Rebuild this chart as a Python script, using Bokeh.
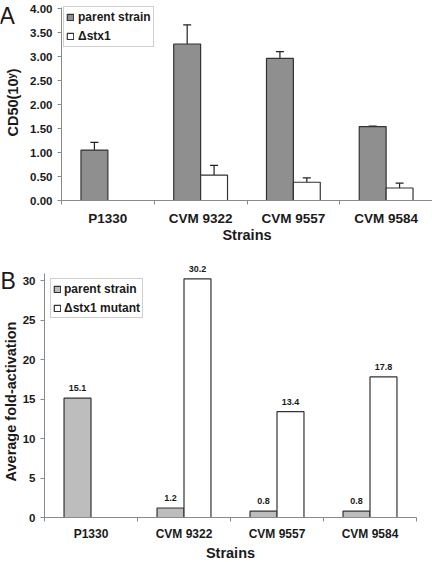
import math
from bokeh.plotting import figure
from bokeh.layouts import column, row
from bokeh.models import (ColumnDataSource, FixedTicker, Range1d, Whisker, TeeHead,
                          LabelSet, Legend, LegendItem, NumeralTickFormatter)
from bokeh.core.properties import value
from bokeh.embed import file_html
from bokeh.resources import INLINE

strains = ["P1330", "CVM 9322", "CVM 9557", "CVM 9584"]

# Panel A: CD50 (10^y)
cd50_parent = [1.05, 3.26, 2.96, 1.54]
cd50_parent_err = [0.16, 0.40, 0.14, 0.01]
cd50_mutant = [None, 0.53, 0.38, 0.26]
cd50_mutant_err = [None, 0.20, 0.09, 0.10]

# Panel B: average fold-activation
fold_parent = [15.1, 1.2, 0.8, 0.8]
fold_mutant = [None, 30.2, 13.4, 17.8]

FONT = "Liberation Sans"
BAR_W = 0.29
OFF = 0.145
AXIS_COL = "#8a8a8a"
EDGE = "#333333"
TXT = "#1a1a1a"

centers = [i + 0.5 for i in range(len(strains))]
boundaries = [float(i) for i in range(len(strains) + 1)]


def style_axes(p, ytick_size, xtick_size, xlabel_size):
    p.xgrid.visible = False
    p.ygrid.visible = False
    p.outline_line_color = None
    p.background_fill_color = "white"
    p.border_fill_color = "white"
    xa = p.xaxis[0]
    xa.ticker = FixedTicker(ticks=centers, minor_ticks=boundaries)
    xa.major_label_overrides = {c: s for c, s in zip(centers, strains)}
    xa.major_tick_line_color = None
    xa.major_tick_out = 0
    xa.major_tick_in = 0
    xa.minor_tick_out = 4
    xa.minor_tick_in = 0
    xa.minor_tick_line_color = AXIS_COL
    xa.axis_line_color = AXIS_COL
    xa.major_label_text_font = FONT
    xa.major_label_text_font_style = "bold"
    xa.major_label_text_font_size = xtick_size
    xa.major_label_text_color = TXT
    xa.axis_label = "Strains"
    xa.axis_label_text_font = FONT
    xa.axis_label_text_font_style = "bold"
    xa.axis_label_text_font_size = xlabel_size
    xa.axis_label_text_color = TXT
    ya = p.yaxis[0]
    ya.axis_line_color = AXIS_COL
    ya.major_tick_line_color = AXIS_COL
    ya.major_tick_out = 4
    ya.major_tick_in = 0
    ya.minor_tick_line_color = None
    ya.major_label_text_font = FONT
    ya.major_label_text_font_style = "bold"
    ya.major_label_text_font_size = ytick_size
    ya.major_label_text_color = TXT
    ya.major_label_standoff = 5


def side_panel(width, frame_h, border_bottom, letter, letter_xy, ylabel, ylabel_xy):
    """Narrow strip left of a panel holding the panel letter and the y-axis title.
    Its frame lines up with the main panel's frame; coordinates are pixels from its top."""
    s = figure(frame_width=width, frame_height=frame_h, output_backend="svg",
               toolbar_location=None, x_range=Range1d(0, width), y_range=Range1d(frame_h, 0),
               x_axis_location=None, y_axis_location=None, title=None,
               min_border=0, min_border_left=0, min_border_right=0,
               min_border_top=0, min_border_bottom=border_bottom)
    s.grid.visible = False
    s.outline_line_color = None
    s.background_fill_color = "white"
    s.border_fill_color = "white"
    s.text(x=[letter_xy[0]], y=[letter_xy[1]], text=[letter], text_font=value(FONT),
           text_font_size="23px", text_color=TXT, text_baseline="alphabetic",
           text_align="left")
    s.text(x=[ylabel_xy[0]], y=[ylabel_xy[1]], text=[ylabel], angle=math.pi / 2,
           text_font=value(FONT), text_font_style="bold", text_font_size="14.5px",
           text_color=TXT, text_baseline="middle", text_align="center")
    return s


# ---------------- Panel A ----------------
SIDE_A = 24
FH_A = 200
sideA = side_panel(SIDE_A, FH_A, 50, "A", (-1, 15.5), "CD50(10\u02b8)", (12.5, 102))

pa = figure(frame_width=371, frame_height=FH_A, output_backend="svg", toolbar_location=None,
            x_range=Range1d(0, 4), y_range=Range1d(0, FH_A / 48.0), title=None,
            min_border_left=61 - SIDE_A, min_border_right=0, min_border_top=0,
            min_border_bottom=50)
style_axes(pa, "11.5px", "13.5px", "14.5px")
pa.yaxis[0].ticker = FixedTicker(ticks=[i * 0.5 for i in range(9)])
pa.yaxis[0].formatter = NumeralTickFormatter(format="0.00")
pa.yaxis[0].bounds = (0, 4.02)
pa.xaxis[0].major_label_standoff = 6
pa.xaxis[0].axis_label_standoff = -2

srcA_p = ColumnDataSource(dict(x=[c - OFF for c in centers], top=cd50_parent,
                               lo=[v - e for v, e in zip(cd50_parent, cd50_parent_err)],
                               hi=[v + e for v, e in zip(cd50_parent, cd50_parent_err)]))
mA = [(c + OFF, v, e) for c, v, e in zip(centers, cd50_mutant, cd50_mutant_err) if v is not None]
srcA_m = ColumnDataSource(dict(x=[m[0] for m in mA], top=[m[1] for m in mA],
                               lo=[m[1] - m[2] for m in mA], hi=[m[1] + m[2] for m in mA]))
rA1 = pa.vbar(x="x", top="top", width=BAR_W, source=srcA_p, fill_color="#8f8f8f",
              line_color=EDGE, line_width=1.2)
rA2 = pa.vbar(x="x", top="top", width=BAR_W, source=srcA_m, fill_color="white",
              line_color=EDGE, line_width=1.2)
for s in (srcA_p, srcA_m):
    pa.add_layout(Whisker(source=s, base="x", upper="hi", lower="lo", line_color="#222222",
                          line_width=1.2,
                          upper_head=TeeHead(size=8, line_color="#222222", line_width=1.2),
                          lower_head=TeeHead(size=8, line_color="#222222", line_width=1.2)))
legA = Legend(items=[LegendItem(label="parent strain", renderers=[rA1]),
                     LegendItem(label="\u0394stx1", renderers=[rA2])],
              location=(2, FH_A - 8 - 39), margin=0, padding=2, spacing=3,
              glyph_width=8, glyph_height=8, label_height=16, label_standoff=4,
              label_text_font=FONT, label_text_font_style="bold", label_text_font_size="12px",
              label_text_color=TXT, border_line_color="#a0a0a0", border_line_width=1,
              background_fill_color="white", background_fill_alpha=1.0)
pa.add_layout(legA)

# ---------------- Panel B ----------------
SIDE_B = 19
FH_B = 267
sideB = side_panel(SIDE_B, FH_B, 45, "B", (0, 30), "Average fold-activation", (10.5, 151))

pb = figure(frame_width=372, frame_height=FH_B, output_backend="svg", toolbar_location=None,
            x_range=Range1d(0, 4), y_range=Range1d(0, FH_B / 7.9), title=None,
            min_border_left=44 - SIDE_B, min_border_right=16, min_border_top=0,
            min_border_bottom=45)
style_axes(pb, "11.5px", "12px", "14.5px")
pb.yaxis[0].ticker = FixedTicker(ticks=[0, 5, 10, 15, 20, 25, 30])
pb.yaxis[0].bounds = (0, 30.9)
pb.xaxis[0].major_label_standoff = 5
pb.xaxis[0].axis_label_standoff = 1

srcB_p = ColumnDataSource(dict(x=[c - OFF for c in centers], top=fold_parent,
                               txt=["%.1f" % v for v in fold_parent]))
mB = [(c + OFF, v) for c, v in zip(centers, fold_mutant) if v is not None]
srcB_m = ColumnDataSource(dict(x=[m[0] for m in mB], top=[m[1] for m in mB],
                               txt=["%.1f" % m[1] for m in mB]))
rB1 = pb.vbar(x="x", top="top", width=BAR_W, source=srcB_p, fill_color="#bdbdbd",
              line_color=EDGE, line_width=1.2)
rB2 = pb.vbar(x="x", top="top", width=BAR_W, source=srcB_m, fill_color="white",
              line_color=EDGE, line_width=1.2)
for s in (srcB_p, srcB_m):
    pb.add_layout(LabelSet(source=s, x="x", y="top", text="txt", text_align="center",
                           text_baseline="bottom", y_offset=7, text_font=value(FONT),
                           text_font_style=value("bold"), text_font_size=value("9px"),
                           text_color=value(TXT)))
legB = Legend(items=[LegendItem(label="parent strain", renderers=[rB1]),
                     LegendItem(label="\u0394stx1 mutant", renderers=[rB2])],
              location=(6, FH_B - 31 - 37), margin=0, padding=2, spacing=4,
              glyph_width=8, glyph_height=8, label_height=15, label_standoff=3,
              label_text_font=FONT, label_text_font_style="bold", label_text_font_size="12px",
              label_text_color=TXT, border_line_color="#a0a0a0", border_line_width=1,
              background_fill_color="white", background_fill_alpha=1.0)
pb.add_layout(legB)

layout = column(row(sideA, pa, spacing=0), row(sideB, pb, spacing=0), spacing=0)
open("out.html", "w").write(file_html(layout, INLINE))
